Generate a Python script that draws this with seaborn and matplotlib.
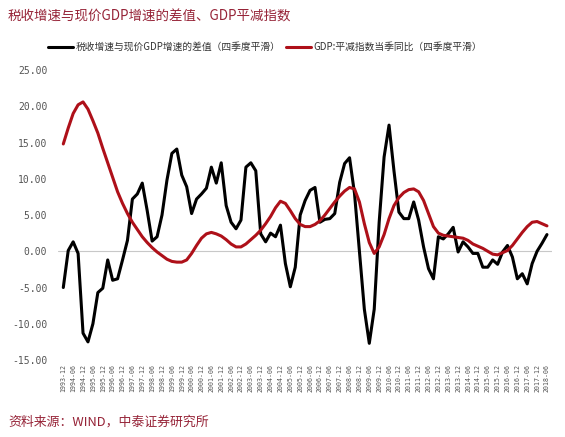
import numpy as np
import pandas as pd
import seaborn as sns
import matplotlib.pyplot as plt

sns.set_style("white")
plt.rcParams['font.family'] = ['Noto Sans CJK SC', 'DejaVu Sans']

# quarterly series, 1993-12 .. 2018-06
tax_gap = [-5.0, 0.1, 1.3, -0.3, -11.3, -12.5, -10.0, -5.7, -5.1, -1.2,
           -4.0, -3.8, -1.2, 1.5, 7.2, 7.9, 9.4, 5.6, 1.4, 2.0,
           5.0, 9.8, 13.5, 14.1, 10.5, 8.9, 5.2, 7.2, 7.9, 8.7,
           11.6, 9.4, 12.2, 6.3, 4.0, 3.1, 4.3, 11.6, 12.2, 11.1,
           2.4, 1.3, 2.5, 2.0, 3.6, -1.7, -4.9, -2.2, 5.0, 7.0,
           8.4, 8.8, 4.0, 4.4, 4.5, 5.2, 9.5, 12.1, 12.9, 8.0,
           0.0, -8.0, -12.7, -8.0, 4.0, 13.0, 17.4, 11.1, 5.4, 4.5,
           4.5, 6.8, 4.3, 0.6, -2.4, -3.8, 2.0, 1.7, 2.4, 3.3,
           -0.1, 1.3, 0.6, -0.3, -0.3, -2.2, -2.2, -1.2, -1.8, -0.1,
           0.8, -0.8, -3.8, -3.1, -4.5, -1.7, 0.0, 1.1, 2.3]
deflator = [14.8, 17.0, 19.0, 20.2, 20.6, 19.6, 18.0, 16.3, 14.2, 12.2,
            10.2, 8.2, 6.6, 5.2, 4.0, 3.0, 2.0, 1.2, 0.5, -0.1,
            -0.6, -1.1, -1.4, -1.5, -1.5, -1.2, -0.3, 0.8, 1.8, 2.4,
            2.6, 2.4, 2.1, 1.6, 1.0, 0.6, 0.6, 1.0, 1.6, 2.2,
            2.9, 3.8, 4.8, 6.0, 6.9, 6.6, 5.6, 4.5, 3.7, 3.4,
            3.4, 3.7, 4.2, 5.0, 5.9, 6.8, 7.6, 8.3, 8.8, 8.6,
            6.8, 3.8, 1.2, -0.3, 0.6, 2.3, 4.5, 6.3, 7.4, 8.1,
            8.5, 8.6, 8.2, 7.0, 5.2, 3.4, 2.5, 2.2, 2.1, 2.0,
            1.9, 1.8, 1.5, 1.0, 0.7, 0.4, 0.0, -0.4, -0.5, -0.2,
            0.1, 0.8, 1.7, 2.6, 3.4, 4.0, 4.1, 3.8, 3.5]

# half-year tick labels
tick_labels = []
for y in range(1993, 2019):
    for m in ("06", "12"):
        lab = f"{y}-{m}"
        if "1993-12" <= lab <= "2018-06":
            tick_labels.append(lab)

df = pd.DataFrame({"q": np.arange(len(tax_gap)), "gap": tax_gap, "defl": deflator})

fig = plt.figure(figsize=(5.65, 4.37), dpi=100)
ax = fig.add_axes([0.1033, 0.1762, 0.8735, 0.6636])

ax.axhline(0, color="#c8c8c8", lw=0.8, zorder=1)
sns.lineplot(data=df, x="q", y="gap", color="black", lw=2.2, ax=ax,
             label="税收增速与现价GDP增速的差值（四季度平滑）")
sns.lineplot(data=df, x="q", y="defl", color="#AE1019", lw=2.2, ax=ax,
             label="GDP:平减指数当季同比（四季度平滑）")

ax.set_xlim(-1, 99)
ax.set_ylim(-15, 25)
ax.set_yticks(np.arange(-15, 26, 5))
ax.set_yticklabels([f"{v:.2f}" for v in np.arange(-15, 26, 5)],
                   fontsize=7, color="#555555", family="DejaVu Sans Mono")
ax.set_xticks(np.arange(0, len(tax_gap), 2))
ax.set_xticklabels(tick_labels, rotation=90, fontsize=4.8, color="#555555",
                   family="DejaVu Sans Mono")
ax.tick_params(axis="y", length=0, pad=8)
ax.tick_params(axis="x", length=0, pad=3)
ax.set_xlabel("")
ax.set_ylabel("")
sns.despine(ax=ax, left=True, bottom=True)

ax.legend(loc="center left", bbox_to_anchor=(48 / 565, 1 - 47 / 437),
          bbox_transform=fig.transFigure, ncol=2, frameon=False, fontsize=7,
          handlelength=2.6, handletextpad=0.2, columnspacing=0.6,
          borderaxespad=0, borderpad=0, labelcolor="#333333")

fig.text(0.014, 1 - 17 / 437, "税收增速与现价GDP增速的差值、GDP平减指数",
         fontsize=9.7, color="#962337", va="center", ha="left")
fig.text(0.014, 1 - 422 / 437, "资料来源：WIND，中泰证券研究所",
         fontsize=9.3, color="#962337", va="center", ha="left")

fig.savefig("out.png", dpi=100)
